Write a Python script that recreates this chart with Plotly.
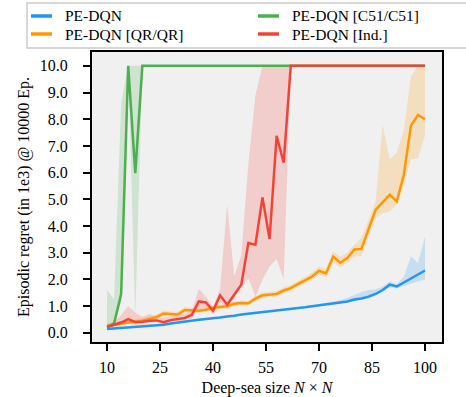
import plotly.graph_objects as go

sizes = list(range(10, 101, 2))

pe_mean = [0.14, 0.16, 0.18, 0.19, 0.21, 0.22, 0.24, 0.26, 0.30, 0.34, 0.38, 0.42, 0.46, 0.48, 0.51, 0.53,
           0.57, 0.61, 0.63, 0.68, 0.71, 0.73, 0.76, 0.79, 0.81, 0.85, 0.88, 0.91, 0.95, 0.99, 1.02, 1.06,
           1.09, 1.13, 1.17, 1.24, 1.28, 1.35, 1.45, 1.60, 1.80, 1.73, 1.88, 2.03, 2.20, 2.33]
pe_low = [0.11, 0.13, 0.15, 0.16, 0.18, 0.19, 0.21, 0.23, 0.27, 0.31, 0.35, 0.39, 0.43, 0.45, 0.48, 0.50,
          0.54, 0.58, 0.60, 0.65, 0.68, 0.70, 0.73, 0.76, 0.78, 0.82, 0.85, 0.88, 0.92, 0.96, 0.99, 1.03,
          1.06, 1.10, 1.13, 1.18, 1.22, 1.28, 1.38, 1.52, 1.70, 1.66, 1.75, 1.85, 1.92, 1.98]
pe_high = [0.17, 0.19, 0.21, 0.22, 0.24, 0.25, 0.27, 0.29, 0.33, 0.37, 0.41, 0.45, 0.49, 0.51, 0.54, 0.56,
           0.60, 0.64, 0.66, 0.71, 0.74, 0.76, 0.79, 0.82, 0.84, 0.88, 0.91, 0.94, 0.98, 1.02, 1.06, 1.12,
           1.17, 1.22, 1.30, 1.42, 1.52, 1.60, 1.62, 1.72, 1.92, 1.82, 2.10, 2.86, 2.61, 3.60]

qr_mean = [0.26, 0.30, 0.34, 0.40, 0.42, 0.45, 0.52, 0.58, 0.72, 0.70, 0.68, 0.85, 0.84, 0.82, 0.86, 0.93,
           0.96, 0.99, 1.08, 1.11, 1.10, 1.28, 1.40, 1.42, 1.45, 1.58, 1.67, 1.82, 1.95, 2.10, 2.32, 2.22,
           2.85, 2.62, 2.80, 3.12, 3.14, 3.85, 4.60, 4.88, 5.17, 4.92, 5.92, 7.75, 8.16, 8.00]
qr_low = [0.20, 0.24, 0.28, 0.33, 0.36, 0.39, 0.45, 0.50, 0.62, 0.62, 0.60, 0.76, 0.76, 0.74, 0.78, 0.85,
          0.88, 0.91, 0.99, 1.02, 1.02, 1.18, 1.30, 1.33, 1.36, 1.48, 1.57, 1.71, 1.84, 1.97, 2.18, 2.08,
          2.65, 2.45, 2.62, 2.85, 2.88, 3.55, 4.30, 4.48, 4.54, 4.80, 5.50, 6.50, 6.54, 7.40]
qr_high = [0.34, 0.38, 0.42, 0.48, 0.50, 0.53, 0.60, 0.68, 0.82, 0.80, 0.78, 0.95, 0.93, 0.91, 0.95, 1.02,
           1.05, 1.08, 1.18, 1.21, 1.20, 1.38, 1.50, 1.52, 1.56, 1.70, 1.79, 1.94, 2.08, 2.25, 2.48, 2.40,
           3.05, 2.85, 3.00, 3.30, 3.55, 4.20, 4.90, 7.80, 6.48, 6.73, 7.60, 9.60, 10.0, 10.0]

c51_mean = [0.21, 0.35, 1.45, 10.0, 5.98] + [10.0] * 41
c51_low = [0.15, 0.20, 1.20, 10.0, 0.61] + [10.0] * 41
c51_high = [1.60, 1.24, 8.60, 10.0, 10.0] + [10.0] * 41

ind_mean = [0.21, 0.30, 0.38, 0.51, 0.39, 0.41, 0.45, 0.46, 0.39, 0.47, 0.50, 0.55, 0.67, 1.17, 1.13, 0.82,
            1.40, 1.05, 1.42, 1.80, 3.36, 3.30, 5.07, 3.51, 7.38, 6.37] + [10.0] * 20
ind_low = [0.18, 0.25, 0.30, 0.35, 0.30, 0.35, 0.38, 0.40, 0.30, 0.40, 0.45, 0.45, 0.55, 0.90, 0.95, 0.67,
           1.15, 0.95, 1.30, 1.67, 2.05, 1.36, 1.99, 2.48, 2.76, 2.01] + [10.0] * 20
ind_high = [0.25, 0.40, 0.65, 0.99, 0.75, 0.60, 0.70, 0.60, 0.55, 0.62, 0.65, 0.70, 0.85, 1.64, 1.35, 0.95,
            1.65, 4.79, 2.11, 2.90, 6.30, 8.90, 10.0, 10.0, 10.0, 10.0] + [10.0] * 20

names = ["PE-DQN", "PE-DQN [QR/QR]", "PE-DQN [C51/C51]", "PE-DQN [Ind.]"]
colors = [(33, 150, 243), (255, 152, 0), (76, 175, 80), (244, 67, 54)]
means = [pe_mean, qr_mean, c51_mean, ind_mean]
lows = [pe_low, qr_low, c51_low, ind_low]
highs = [pe_high, qr_high, c51_high, ind_high]

x_ticks = [10, 25, 40, 55, 70, 85, 100]
y_ticks = [0, 1, 2, 3, 4, 5, 6, 7, 8, 9, 10]

W, H = 466, 397
L, T = 92, 52
pw, ph = 350, 290
R, B = W - L - pw, H - T - ph


def px(xs):
    return (xs - L) / pw


def py(ys):
    return (T + ph - ys) / ph


fig = go.Figure()
for lo, hi, c in zip(lows, highs, colors):
    fig.add_trace(go.Scatter(x=sizes, y=lo, mode="lines", line=dict(width=0),
                             showlegend=False, hoverinfo="skip"))
    fig.add_trace(go.Scatter(x=sizes, y=hi, mode="lines", line=dict(width=0),
                             fill="tonexty", fillcolor="rgba(%d,%d,%d,0.2)" % c,
                             showlegend=False, hoverinfo="skip"))
for name, m, c in zip(names, means, colors):
    fig.add_trace(go.Scatter(x=sizes, y=m, mode="lines", name=name, showlegend=False,
                             line=dict(color="rgb(%d,%d,%d)" % c, width=2.5)))

font_family = "Liberation Serif"

# legend (matplotlib-style, 2 columns, column-major order)
shapes = [dict(type="rect", xref="paper", yref="paper",
               x0=px(27), x1=px(500), y0=py(48), y1=py(3),
               fillcolor="white", line=dict(color="#cccccc", width=1.5), layer="above")]
annotations = []
slots = [(31, 16), (31, 34), (258, 16), (258, 34)]
for (sx, sy), name, c in zip(slots, names, colors):
    shapes.append(dict(type="line", xref="paper", yref="paper",
                       x0=px(sx), x1=px(sx + 21), y0=py(sy), y1=py(sy),
                       line=dict(color="rgb(%d,%d,%d)" % c, width=3.5), layer="above"))
    annotations.append(dict(text=name, xref="paper", yref="paper", x=px(sx + 33), y=py(sy),
                            xanchor="left", yanchor="middle", showarrow=False, borderpad=0,
                            font=dict(family=font_family, size=15.5, color="black")))

axis_common = dict(showline=True, linecolor="black", linewidth=2, mirror=True,
                   ticks="outside", ticklen=7, tickwidth=1.5, tickcolor="black",
                   showgrid=False, zeroline=False, automargin=False,
                   tickfont=dict(family=font_family, size=16, color="black"))

fig.update_layout(
    template="none",
    width=W, height=H,
    margin=dict(l=L, r=R, t=T, b=B, autoexpand=False),
    paper_bgcolor="white", plot_bgcolor="#f0f0f0",
    font=dict(family=font_family, color="black"),
    showlegend=False,
    xaxis=dict(range=[5.75, 104.8], tickvals=x_ticks, ticklabelstandoff=3,
               title=dict(text="Deep-sea size <i>N</i> × <i>N</i>", font=dict(size=16), standoff=9),
               **axis_common),
    yaxis=dict(range=[-0.35, 10.52], tickvals=y_ticks, tickformat=".1f", ticklabelstandoff=12,
               title=dict(text="Episodic regret (in 1e3) @ 10000 Ep.", font=dict(size=16), standoff=6),
               **axis_common),
    shapes=shapes,
    annotations=annotations,
)

fig.write_html("out.html", config={"displayModeBar": False},
               post_script="document.body.style.margin='0';document.body.style.overflow='hidden';")
